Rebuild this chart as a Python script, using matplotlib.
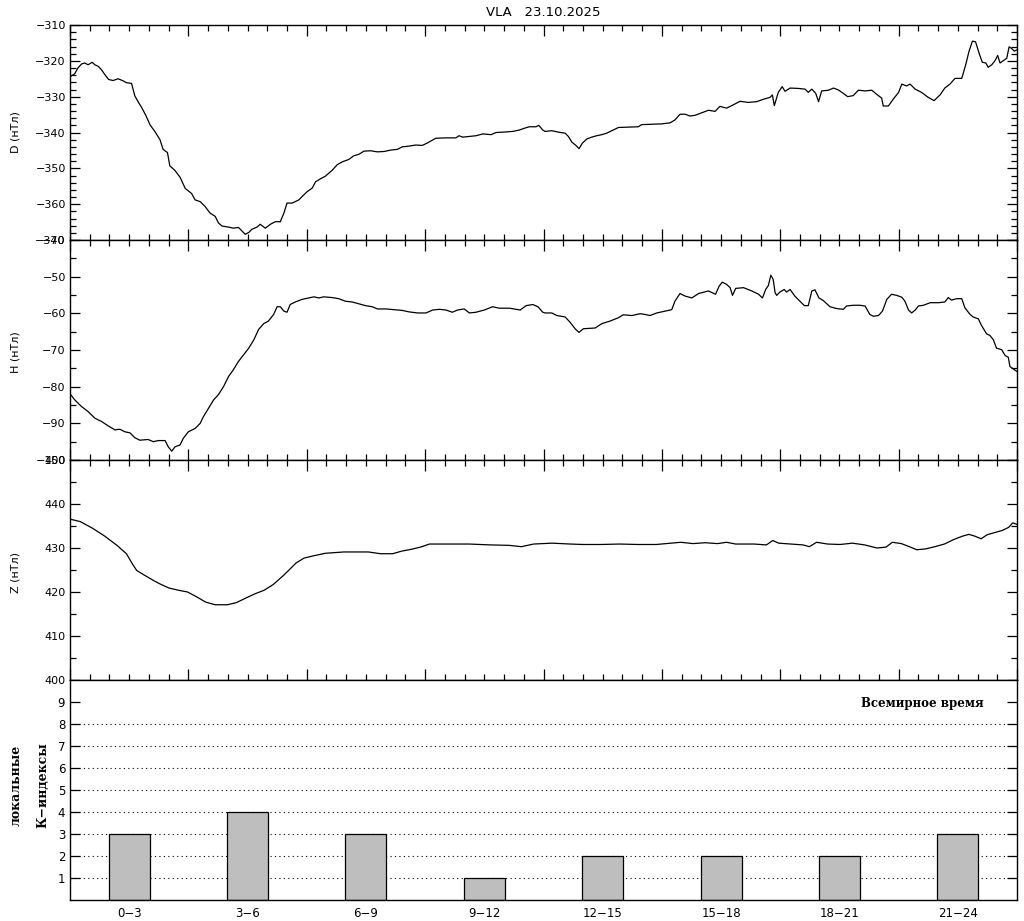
import matplotlib
matplotlib.use("Agg")
import matplotlib.pyplot as plt
from matplotlib.ticker import MultipleLocator, FixedLocator, FixedFormatter

# D component (nT) vs universal time (hours)
d_time = [0.02, 0.12, 0.20, 0.29, 0.37, 0.46, 0.56, 0.63, 0.71, 0.80, 0.88, 0.98, 1.09, 1.22,
          1.35, 1.43, 1.56, 1.64, 1.73, 1.81, 1.92, 2.03, 2.15, 2.28, 2.36, 2.47, 2.53, 2.66,
          2.79, 2.92, 3.08, 3.17, 3.30, 3.42, 3.55, 3.68, 3.76, 3.85, 4.02, 4.14, 4.27, 4.36,
          4.44, 4.53, 4.61, 4.74, 4.82, 4.95, 5.08, 5.20, 5.33, 5.42, 5.50, 5.63, 5.80, 5.88,
          6.01, 6.14, 6.22, 6.35, 6.47, 6.64, 6.77, 6.90, 7.07, 7.19, 7.32, 7.45, 7.62, 7.79,
          7.96, 8.13, 8.30, 8.42, 8.59, 8.76, 8.93, 9.06, 9.27, 9.53, 9.78, 9.86, 9.95, 10.12,
          10.29, 10.46, 10.67, 10.80, 10.97, 11.22, 11.39, 11.52, 11.64, 11.81, 11.88, 11.98,
          12.04, 12.21, 12.38, 12.55, 12.63, 12.72, 12.82, 12.90, 12.99, 13.10, 13.22, 13.35,
          13.48, 13.60, 13.73, 13.90, 14.15, 14.40, 14.49, 14.74, 14.99, 15.21, 15.33, 15.46,
          15.59, 15.71, 15.84, 16.01, 16.18, 16.35, 16.47, 16.64, 16.77, 16.98, 17.19, 17.40,
          17.61, 17.74, 17.80, 17.85, 17.95, 18.05, 18.12, 18.25, 18.46, 18.63, 18.71, 18.80,
          18.90, 18.97, 19.05, 19.22, 19.35, 19.47, 19.60, 19.71, 19.85, 19.98, 20.15, 20.32,
          20.44, 20.57, 20.61, 20.74, 20.87, 21.00, 21.08, 21.20, 21.29, 21.42, 21.58, 21.75,
          21.90, 22.05, 22.17, 22.30, 22.43, 22.60, 22.70, 22.78, 22.87, 22.95, 23.04, 23.12,
          23.21, 23.27, 23.36, 23.44, 23.51, 23.57, 23.65, 23.74, 23.80, 23.86, 23.93, 23.99]
d_vals = [-324.3, -323.6, -322.0, -320.9, -320.6, -321.1, -320.4, -321.1, -321.5, -322.5, -323.8,
          -325.2, -325.5, -325.0, -325.6, -326.1, -326.3, -329.7, -331.5, -332.9, -335.2, -337.9,
          -339.7, -342.0, -344.7, -345.6, -349.3, -350.6, -352.5, -355.6, -357.0, -358.8, -359.3,
          -360.6, -362.5, -363.4, -365.2, -366.1, -366.4, -366.7, -366.5, -367.5, -368.4, -367.9,
          -367.0, -366.4, -365.6, -366.7, -365.6, -364.9, -364.9, -362.5, -359.7, -359.7, -358.8,
          -357.9, -356.5, -355.5, -353.8, -352.9, -352.2, -350.6, -349.0, -348.2, -347.5, -346.5,
          -346.1, -345.2, -345.1, -345.4, -345.3, -344.9, -344.7, -344.0, -343.8, -343.5, -343.6,
          -342.9, -341.6, -341.5, -341.5, -340.9, -341.3, -341.1, -340.9, -340.4, -340.6, -340.0,
          -339.9, -339.7, -339.3, -338.8, -338.4, -338.4, -338.0, -339.3,
          -339.7, -339.5, -339.9, -340.2, -341.1, -342.7, -343.6, -344.5, -342.9, -341.8, -341.3,
          -340.9, -340.6, -340.2, -339.5, -338.6, -338.5, -338.4, -337.8, -337.7, -337.6, -337.3,
          -336.5, -334.9, -334.9, -335.4, -335.2, -334.5, -333.8, -334.1, -332.7, -333.2, -332.5,
          -331.3, -331.6, -331.4, -330.6, -330.2, -329.5, -332.5, -328.8, -327.2, -328.5, -327.6,
          -327.7, -327.9, -328.8, -327.9, -329.1, -331.4, -328.4, -328.2, -327.6, -328.1, -329.1,
          -330.0, -329.7, -328.2, -328.4, -328.2, -329.3, -330.4, -332.6, -332.6, -330.6, -328.8,
          -326.5, -327.0, -326.5, -327.9, -328.8, -330.2, -331.1, -329.5, -327.6, -326.5, -324.9,
          -324.9, -321.1, -317.5, -314.5, -314.7, -317.9, -320.4, -320.6, -321.8, -321.1, -320.0,
          -318.5, -320.6, -320.0, -319.3, -316.1, -316.5, -317.3, -317.0]

# H component (nT)
h_time = [0.02, 0.12, 0.29, 0.46, 0.63, 0.80, 0.97, 1.14, 1.26, 1.39, 1.52, 1.64, 1.77, 1.98,
          2.11, 2.24, 2.41, 2.49, 2.58, 2.66, 2.79, 2.87, 3.00, 3.17, 3.30, 3.38, 3.51, 3.64,
          3.76, 3.89, 4.02, 4.14, 4.27, 4.40, 4.53, 4.66, 4.78, 4.91, 5.03, 5.16, 5.25, 5.33,
          5.42, 5.50, 5.58, 5.71, 5.88, 6.05, 6.18, 6.31, 6.43, 6.64, 6.81, 6.98, 7.15, 7.32,
          7.49, 7.66, 7.79, 8.00, 8.21, 8.42, 8.59, 8.81, 9.02, 9.19, 9.36, 9.53, 9.69, 9.82,
          9.99, 10.12, 10.29, 10.50, 10.71, 10.88, 11.14, 11.41, 11.56, 11.73, 11.86, 11.98,
          12.04, 12.21, 12.34, 12.55, 12.67, 12.80, 12.90, 13.01, 13.31, 13.48, 13.69, 13.90,
          14.02, 14.24, 14.45, 14.57, 14.70, 14.87, 15.08, 15.25, 15.33, 15.46, 15.59, 15.76,
          15.93, 16.18, 16.36, 16.45, 16.53, 16.64, 16.73, 16.79, 16.87, 17.07, 17.28, 17.45,
          17.55, 17.63, 17.70, 17.76, 17.82, 17.87, 17.91, 17.99, 18.10, 18.16, 18.25, 18.37,
          18.50, 18.61, 18.71, 18.80, 18.88, 18.98, 19.09, 19.26, 19.43, 19.60, 19.68, 19.85,
          20.02, 20.15, 20.27, 20.36, 20.49, 20.59, 20.70, 20.82, 20.95, 21.08, 21.16, 21.25,
          21.33, 21.42, 21.50, 21.63, 21.80, 22.01, 22.17, 22.26, 22.34, 22.47, 22.60, 22.68,
          22.81, 22.89, 23.02, 23.10, 23.23, 23.31, 23.40, 23.48, 23.61, 23.70, 23.78, 23.82,
          23.91, 23.99]
h_vals = [-82.2, -83.6, -85.4, -86.8, -88.6, -89.5, -90.7, -91.8, -91.6, -92.3, -92.6, -93.9,
          -94.6, -94.4, -95.0, -94.7, -94.7, -96.4, -97.6, -96.4, -95.9, -94.1, -92.3, -91.4,
          -90.0, -88.2, -85.9, -83.6, -82.2, -80.0, -77.2, -75.4, -73.1, -71.3, -69.5, -67.2,
          -64.4, -62.8, -62.1, -60.3, -58.2, -58.2, -59.4, -59.7, -57.6, -56.9, -56.2, -55.8,
          -55.5, -55.8, -55.5, -55.7, -56.0, -56.7, -56.9, -57.4, -57.9, -58.2, -58.8, -58.8,
          -59.0, -59.2, -59.6, -59.9, -59.9, -59.1, -58.9, -59.1, -59.7, -59.1, -58.8, -59.9,
          -59.7, -59.1, -58.2, -58.6, -58.6, -59.1, -57.9, -57.6, -58.2, -59.7,
          -59.9, -59.9, -60.6, -61.0, -62.4, -64.2, -65.2, -64.2, -64.0, -62.8, -62.1, -61.2,
          -60.4, -60.6, -60.1, -60.3, -60.6, -59.9, -59.4, -59.0, -56.7, -54.6, -55.3, -55.8,
          -54.6, -53.9, -54.8, -52.6, -51.5, -52.1, -53.0, -55.1, -53.2, -53.0, -53.9, -54.8,
          -55.8, -53.5, -52.4, -49.6, -50.7, -54.4, -55.1, -54.2, -53.5, -54.2, -53.5, -55.3,
          -56.7, -57.9, -57.9, -53.9, -53.6, -55.8, -56.5, -58.2, -58.7, -58.9, -58.0, -57.8,
          -57.8, -58.0, -60.3, -60.8, -60.6, -59.4, -56.2, -54.8, -55.1, -55.6, -56.7, -59.1,
          -59.9, -59.1, -58.0, -57.8, -57.1, -57.1, -56.9, -55.7, -56.4, -56.0, -56.0, -58.5,
          -60.3, -61.0, -61.5, -63.3, -65.6, -66.0, -67.2, -69.5, -69.9, -71.5, -72.0, -74.5,
          -75.2, -75.8]

# Z component (nT)
z_time = [0.03, 0.26, 0.57, 0.88, 1.19, 1.43, 1.58, 1.69, 1.89, 2.12, 2.31, 2.51, 2.75, 2.98,
          3.21, 3.44, 3.68, 3.99, 4.22, 4.45, 4.69, 4.92, 5.15, 5.39, 5.54, 5.73, 5.93, 6.16,
          6.47, 6.94, 7.56, 7.87, 8.18, 8.41, 8.65, 8.88, 9.11, 9.58, 10.12, 10.66, 11.13,
          11.44, 11.75, 12.22, 12.68, 12.99, 13.46, 13.93, 14.39, 14.86, 15.48, 15.79, 16.10,
          16.41, 16.64, 16.87, 17.34, 17.65, 17.81, 17.96, 18.27, 18.58, 18.74, 18.92, 19.20,
          19.52, 19.83, 20.14, 20.45, 20.68, 20.84, 21.07, 21.30, 21.46, 21.69, 21.92, 22.16,
          22.39, 22.62, 22.78, 22.93, 23.09, 23.24, 23.47, 23.63, 23.79, 23.89, 23.99]
z_vals = [436.5, 436.0, 434.5, 432.7, 430.6, 428.7, 426.4, 424.9, 423.8, 422.6, 421.7, 420.9,
          420.4, 420.0, 418.9, 417.7, 417.1, 417.1, 417.6, 418.6, 419.6, 420.4, 421.7, 423.6,
          424.9, 426.6, 427.7, 428.2, 428.8, 429.1, 429.1, 428.7, 428.7, 429.3, 429.7, 430.2,
          430.9, 430.9, 430.9, 430.7, 430.6, 430.3, 430.9, 431.1, 430.9, 430.8, 430.8, 430.9,
          430.8, 430.8, 431.3, 431.0, 431.2, 431.0, 431.3, 430.9, 430.9, 430.7, 431.7, 431.1,
          430.9, 430.7, 430.3, 431.3, 430.9, 430.8, 431.1, 430.7, 430.0, 430.2, 431.3, 431.0,
          430.2, 429.6, 429.8, 430.3, 430.9, 431.9, 432.7, 433.1, 432.7, 432.1, 433.0, 433.6,
          434.0, 434.7, 435.7, 435.4]

# local K indices per 3-hour interval
k_labels = ["0\u22123", "3\u22126", "6\u22129", "9\u221212", "12\u221215", "15\u221218",
            "18\u221221", "21\u221224"]
k_vals = [3, 4, 3, 1, 2, 2, 2, 3]
k_centers = [1.5, 4.5, 7.5, 10.5, 13.5, 16.5, 19.5, 22.5]

time_ticks = [0, 3, 6, 9, 12, 15, 18, 21, 24]
time_labels = ["", "03:00", "06:00", "09:00", "12:00", "15:00", "18:00", "", ""]

plt.rcParams["font.family"] = "DejaVu Sans"
plt.rcParams["axes.unicode_minus"] = True

W, H = 1024, 921
fig = plt.figure(figsize=(W / 100, H / 100), dpi=100)

left, width = 70 / W, 947 / W


def panel(top_px, bot_px):
    return fig.add_axes([left, 1 - bot_px / H, width, (bot_px - top_px) / H])


ax_d = panel(25, 240)
ax_h = panel(240, 460)
ax_z = panel(460, 680)
ax_k = panel(680, 900)

lw = 0.9
ax_d.plot(d_time, d_vals, color="black", lw=lw)
ax_h.plot(h_time, h_vals, color="black", lw=lw)
ax_z.plot(z_time, z_vals, color="black", lw=lw)

ax_d.set_ylim(-370, -310)
ax_h.set_ylim(-100, -40)
ax_z.set_ylim(400, 450)

for ax, minor in [(ax_d, 2), (ax_h, 5), (ax_z, 5)]:
    ax.set_xlim(0, 24)
    ax.xaxis.set_major_locator(FixedLocator(time_ticks))
    ax.xaxis.set_minor_locator(MultipleLocator(0.5))
    ax.yaxis.set_major_locator(MultipleLocator(10))
    ax.yaxis.set_minor_locator(MultipleLocator(minor))
    ax.tick_params(which="both", direction="in", top=True, right=True,
                   labelsize=8, width=0.9, pad=3)
    ax.tick_params(which="major", length=8)
    ax.tick_params(which="minor", length=4)
    ax.tick_params(axis="y", which="major", length=7)
    ax.tick_params(axis="x", labelbottom=False)

ax_z.tick_params(axis="x", labelbottom=True, pad=5)
ax_z.xaxis.set_major_formatter(FixedFormatter(time_labels))

# K index panel
ax_k.set_xlim(0, 24)
ax_k.set_ylim(0, 10)
for lev in range(1, 9):
    ax_k.axhline(lev, color="black", lw=0.8, ls=(0, (1, 3)), zorder=1)
ax_k.bar(k_centers, k_vals, width=1.04, color="#bebebe", edgecolor="black",
         linewidth=0.9, zorder=2)
ax_k.yaxis.set_major_locator(FixedLocator(range(1, 10)))
ax_k.xaxis.set_major_locator(FixedLocator(k_centers))
ax_k.xaxis.set_major_formatter(FixedFormatter(k_labels))
ax_k.tick_params(axis="y", direction="in", right=True, length=7, width=0.9, labelsize=8.5)
ax_k.tick_params(axis="x", length=0, labelsize=8.5, pad=5)

for ax in [ax_d, ax_h, ax_z, ax_k]:
    for s in ax.spines.values():
        s.set_linewidth(1.0)

fig.text(543 / W, 1 - 12 / H, "VLA   23.10.2025", ha="center", va="center", fontsize=9.5)

fig.text(15 / W, 1 - 132 / H, "D (нТл)", rotation=90, ha="center", va="center", fontsize=8)
fig.text(15 / W, 1 - 352 / H, "H (нТл)", rotation=90, ha="center", va="center", fontsize=8)
fig.text(15 / W, 1 - 572 / H, "Z (нТл)", rotation=90, ha="center", va="center", fontsize=8)

fig.text(16 / W, 1 - 785 / H, "локальные", rotation=90, ha="center", va="center",
         fontsize=9, family="DejaVu Serif", fontweight="bold")
fig.text(43 / W, 1 - 785 / H, "К\u2212индексы", rotation=90, ha="center", va="center",
         fontsize=9, family="DejaVu Serif", fontweight="bold")
fig.text(922 / W, 1 - 703 / H, "Всемирное время", ha="center", va="center",
         fontsize=8.5, family="DejaVu Serif", fontweight="bold")

fig.savefig("out.png", dpi=100, facecolor="white")
